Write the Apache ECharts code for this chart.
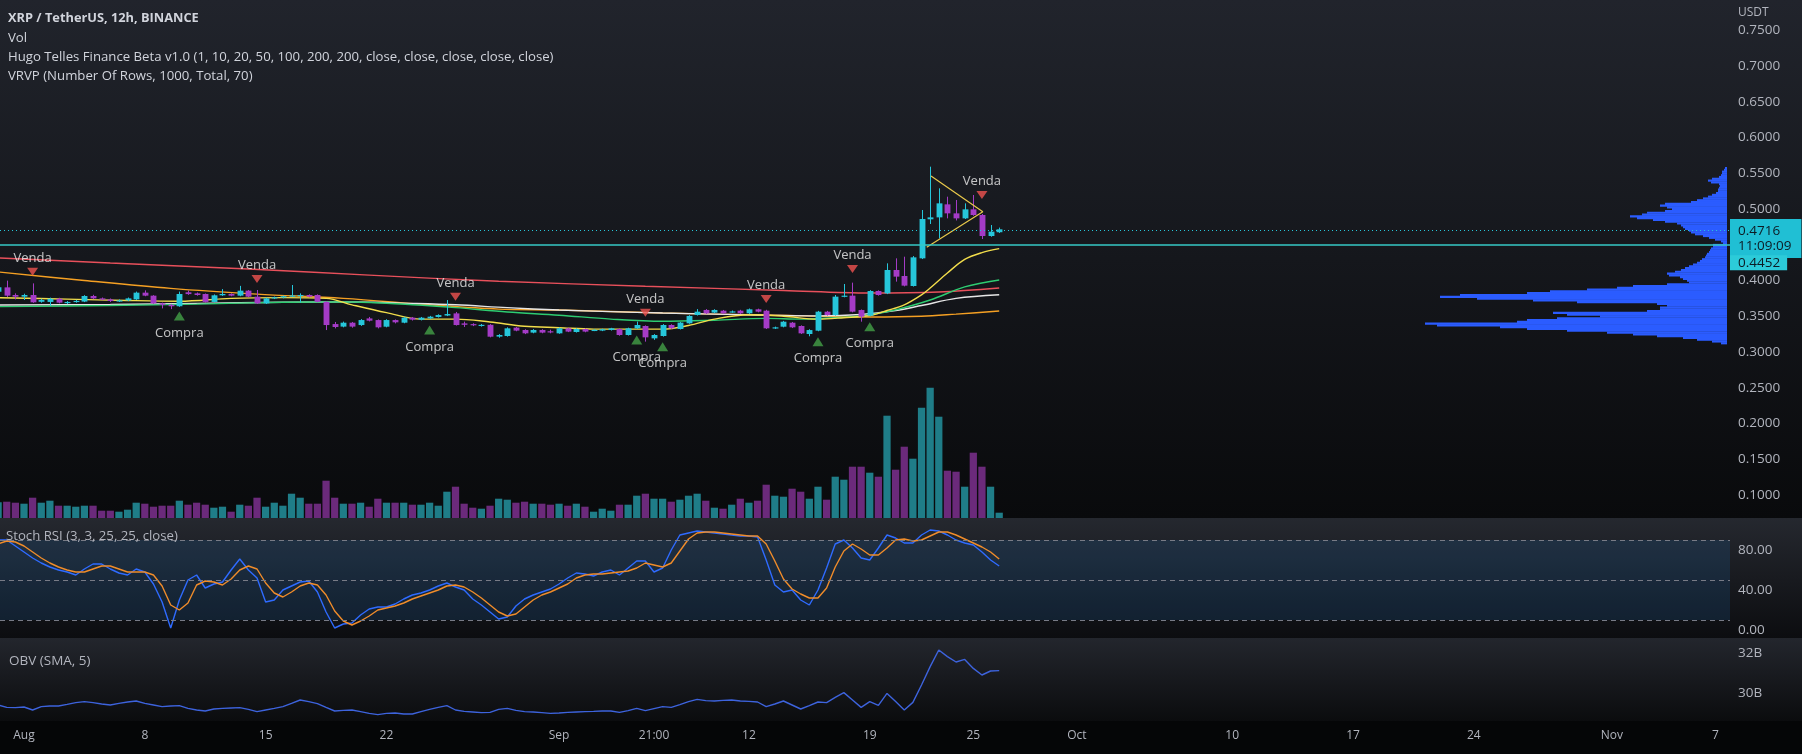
<!DOCTYPE html>
<html><head><meta charset="utf-8">
<script src="https://cdn.jsdelivr.net/npm/echarts@6/dist/echarts.min.js"></script>
<style>html,body{margin:0;padding:0;background:#0b0c0f;}#c{width:1802px;height:754px;}</style>
</head><body><div id="c"></div>
<script>
// ---------------- DATA ----------------
const firstBar = -3; // 12h bar index, 0 = Aug 1 00:00
const opens = [
0.3843,0.3904,0.3797,0.3774,0.3797,0.3702,0.3700,0.3745,0.3690,0.3700,
0.3705,0.3783,0.3750,0.3736,0.3710,0.3722,0.3736,0.3830,0.3788,0.3680,
0.3660,0.3640,0.3835,0.3820,0.3811,0.3700,0.3793,0.3811,0.3788,0.3858,
0.3774,0.3680,0.3750,0.3762,0.3778,0.3780,0.3797,0.3797,0.3702,0.3391,
0.3355,0.3410,0.3377,0.3470,0.3447,0.3354,0.3447,0.3410,0.3480,0.3452,
0.3470,0.3490,0.3510,0.3540,0.3400,0.3390,0.3365,0.3380,0.3215,0.3224,
0.3341,0.3308,0.3271,0.3308,0.3290,0.3261,0.3331,0.3280,0.3322,0.3299,
0.3299,0.3308,0.3322,0.3238,0.3331,0.3364,0.3191,0.3224,0.3378,0.3322,
0.3401,0.3518,0.3588,0.3551,0.3578,0.3560,0.3578,0.3541,0.3597,0.3578,
0.3331,0.3354,0.3410,0.3364,0.3252,0.3298,0.3564,0.3517,0.3774,0.3788,
0.3587,0.3508,0.3853,0.3820,0.4147,0.4063,0.3923,0.4310,0.4856,0.4883,
0.5065,0.4939,0.4869,0.4995,0.4916,0.4622,0.4675];
const closes = [
0.3904,0.3788,0.3774,0.3797,0.3695,0.3727,0.3745,0.3690,0.3700,0.3715,
0.3783,0.3750,0.3736,0.3713,0.3722,0.3750,0.3830,0.3788,0.3680,0.3660,
0.3640,0.3811,0.3810,0.3797,0.3700,0.3793,0.3811,0.3788,0.3858,0.3774,
0.3680,0.3750,0.3765,0.3780,0.3790,0.3797,0.3774,0.3702,0.3377,0.3350,
0.3410,0.3355,0.3447,0.3438,0.3345,0.3447,0.3415,0.3480,0.3452,0.3480,
0.3494,0.3517,0.3531,0.3377,0.3380,0.3375,0.3380,0.3214,0.3238,0.3331,
0.3299,0.3261,0.3308,0.3271,0.3280,0.3331,0.3285,0.3322,0.3285,0.3310,
0.3318,0.3331,0.3238,0.3331,0.3378,0.3205,0.3238,0.3378,0.3331,0.3411,
0.3504,0.3564,0.3541,0.3588,0.3541,0.3568,0.3541,0.3597,0.3564,0.3331,
0.3345,0.3424,0.3345,0.3261,0.3307,0.3564,0.3517,0.3774,0.3788,0.3564,
0.3494,0.3853,0.3797,0.4147,0.4054,0.3928,0.4324,0.4860,0.4883,0.5079,
0.4939,0.4869,0.4995,0.4916,0.4622,0.4683,0.4716];
const highs = [
0.3925,0.3998,0.3820,0.3815,0.3960,0.3745,0.3760,0.3758,0.3712,0.3730,
0.3795,0.3800,0.3762,0.3748,0.3735,0.3762,0.3845,0.3862,0.3795,0.3690,
0.3672,0.3845,0.3860,0.3832,0.3818,0.3805,0.3880,0.3820,0.3925,0.3866,
0.3867,0.3760,0.3775,0.3790,0.3937,0.3820,0.3806,0.3806,0.3708,0.3420,
0.3425,0.3420,0.3460,0.3490,0.3455,0.3458,0.3455,0.3492,0.3490,0.3490,
0.3505,0.3527,0.3727,0.3560,0.3425,0.3402,0.3392,0.3390,0.3250,0.3345,
0.3350,0.3318,0.3320,0.3318,0.3312,0.3342,0.3340,0.3332,0.3330,0.3318,
0.3326,0.3338,0.3330,0.3340,0.3425,0.3372,0.3250,0.3390,0.3388,0.3420,
0.3515,0.3600,0.3600,0.3598,0.3588,0.3580,0.3590,0.3608,0.3606,0.3590,
0.3355,0.3435,0.3420,0.3372,0.3318,0.3575,0.3575,0.3797,0.3951,0.3970,
0.3595,0.3865,0.3862,0.4240,0.4310,0.4333,0.4342,0.4986,0.5592,0.5289,
0.5172,0.5126,0.5079,0.5196,0.4930,0.4776,0.4740];
const lows = [
0.3830,0.3770,0.3736,0.3727,0.3688,0.3690,0.3643,0.3680,0.3670,0.3690,
0.3698,0.3740,0.3725,0.3700,0.3700,0.3712,0.3728,0.3780,0.3672,0.3610,
0.3600,0.3632,0.3800,0.3788,0.3690,0.3692,0.3785,0.3780,0.3780,0.3765,
0.3672,0.3672,0.3740,0.3750,0.3770,0.3690,0.3765,0.3695,0.3307,0.3330,
0.3345,0.3340,0.3365,0.3428,0.3330,0.3345,0.3400,0.3402,0.3440,0.3442,
0.3462,0.3482,0.3502,0.3370,0.3350,0.3362,0.3355,0.3205,0.3200,0.3215,
0.3290,0.3250,0.3262,0.3262,0.3262,0.3255,0.3278,0.3272,0.3276,0.3292,
0.3292,0.3300,0.3228,0.3230,0.3322,0.3145,0.3170,0.3215,0.3322,0.3315,
0.3395,0.3510,0.3532,0.3542,0.3532,0.3550,0.3532,0.3532,0.3555,0.3322,
0.3322,0.3345,0.3335,0.3252,0.3220,0.3290,0.3508,0.3508,0.3765,0.3555,
0.3424,0.3500,0.3788,0.3810,0.3984,0.3918,0.3915,0.4300,0.4790,0.4590,
0.4869,0.4840,0.4860,0.4905,0.4580,0.4612,0.4665];
// volume, millions of XRP
const volumes = [
157,163,153,143,203,153,173,123,123,113,
123,123,73,73,63,83,153,143,113,123,
123,173,133,153,133,103,113,63,133,123,
203,113,153,123,243,203,143,143,373,203,
143,143,153,113,193,153,153,153,133,133,
153,123,263,313,143,103,93,123,193,183,
153,163,143,143,133,143,123,143,113,63,
93,73,133,133,223,243,193,193,163,183,
223,243,173,103,93,133,193,153,173,333,
223,213,293,263,193,313,183,413,383,513,
513,453,413,1023,483,713,593,1103,1303,1013,
473,463,313,653,513,313,53];
const stochK = [
90,90,84,78,72,67,63,60,58,55,
61,66,66,61,57,55,61,58,46,28,
2,30,50,55,42,46,48,60,71,60,
52,28,30,40,44,48,49,38,18,2,
6,7,15,21,23,23,26,31,35,37,
40,44,47,43,40,31,25,18,11,13,
24,31,35,38,41,46,52,57,56,54,
58,60,55,62,69,69,58,62,80,95,
97,99,98,97,96,95,94,94,93,70,
45,38,40,30,25,40,62,86,90,82,
72,70,82,95,92,87,87,95,100,99,
95,90,87,85,78,70,64];
const stochD = [
86,89,88,84,78,72,67,63,60,58,
58,61,64,64,61,58,58,58,55,44,
25,20,27,45,49,48,45,51,60,64,
61,47,37,33,38,44,47,45,35,19,
9,5,9,14,20,22,24,27,31,34,
37,40,44,45,43,38,32,25,18,14,
16,23,30,35,38,42,46,52,55,56,
56,57,58,59,62,67,65,63,67,79,
91,97,98,98,97,96,95,94,94,86,
69,51,41,36,32,32,42,63,79,86,
81,75,75,82,90,91,89,90,94,98,
98,95,91,87,83,78,71];
// OBV (SMA 5), billions
const obv = [
29.40,29.28,29.27,29.30,29.15,29.32,29.35,29.35,29.43,29.52,
29.57,29.52,29.45,29.40,29.48,29.55,29.60,29.48,29.40,29.32,
29.35,29.37,29.23,29.15,29.10,29.20,29.23,29.25,29.27,29.18,
29.07,29.15,29.23,29.32,29.48,29.65,29.57,29.47,29.28,29.10,
29.13,29.15,29.07,28.98,28.92,28.98,29.00,28.95,28.95,29.07,
29.18,29.28,29.37,29.15,29.08,29.05,29.02,29.03,29.18,29.23,
29.13,29.07,29.05,29.02,28.98,29.00,29.03,29.05,29.07,29.08,
29.10,29.10,29.03,29.12,29.23,29.12,29.22,29.32,29.28,29.42,
29.57,29.68,29.62,29.60,29.63,29.65,29.60,29.58,29.55,29.32,
29.45,29.60,29.40,29.20,29.37,29.55,29.52,29.78,30.02,29.65,
29.28,29.57,29.38,29.98,29.57,29.15,29.53,30.40,31.32,32.15,
31.82,31.55,31.68,31.23,30.90,31.10,31.12];
// moving averages: [bar index, price]
const maRed = [[-3,0.4315],[10,0.4245],[26,0.4161],[40,0.4075],[55,0.3990],[72,0.3920],[88,0.3860],[98,0.3825],[106,0.3840],[113,0.3895]];
const maOrange = [[-3,0.4120],[7,0.4000],[17,0.3890],[27,0.3810],[37,0.3750],[47,0.3660],[55,0.3600],[62,0.3587],[74,0.3545],[86,0.3517],[98,0.3490],[104,0.3500],[108,0.3530],[113,0.3573]];
const maWhite = [[-3,0.3657],[10,0.3665],[20,0.3680],[30,0.3695],[38,0.3700],[45,0.3680],[50,0.3660],[56,0.3620],[62,0.3587],[68,0.3565],[74,0.3545],[80,0.3530],[86,0.3515],[92,0.3505],[97,0.3525],[101,0.3580],[104,0.3650],[108,0.3750],[113,0.3800]];
const maGreen = [[-3,0.3634],[10,0.3650],[20,0.3670],[30,0.3695],[38,0.3700],[45,0.3660],[50,0.3620],[56,0.3560],[62,0.3515],[68,0.3460],[74,0.3430],[80,0.3445],[86,0.3470],[90,0.3460],[94,0.3478],[98,0.3520],[101,0.3590],[105,0.3727],[109,0.3910],[113,0.4007]];
const maYellow = [[-3,0.3760],[5,0.3740],[12,0.3720],[18,0.3710],[24,0.3750],[30,0.3760],[35,0.3750],[38,0.3660],[42,0.3550],[46,0.3460],[50,0.3460],[54,0.3420],[58,0.3360],[62,0.3340],[66,0.3320],[70,0.3320],[74,0.3320],[77,0.3370],[80,0.3460],[84,0.3520],[88,0.3500],[92,0.3460],[95,0.3480],[98,0.3510],[100,0.3580],[102,0.3660],[104,0.3800],[105,0.3895],[107,0.4105],[109,0.4295],[111,0.4390],[113,0.4445]];
const trianglePts = [[105.1,0.5462],[111.1,0.4962],[104.6,0.4464]];
// signals
const vendaBars = [1,27,50,72,86,96,111];
const vendaPrices = [0.4123,0.4021,0.3773,0.3550,0.3741,0.4161,0.5196];
const compraBars = [18,47,71,74,92,98];
const compraPrices = [0.3503,0.3308,0.3168,0.3074,0.3144,0.3354];
const supportLevel = 0.4452;
const countdown = '11:09:09';
// volume profile (VRVP) rows, low -> high
const vrvpFirstRow = 0.3125, vrvpStep = 0.0025;
const vrvpVolumes = [
6,15,30,44,70,94,120,160,200,227,290,302,210,200,170,127,160,174,80,67,
67,60,70,150,194,250,287,267,200,177,140,110,94,60,38,40,44,47,58,60,
52,46,42,38,34,30,27,25,22,21,20,18,17,16,14,14,4,6,12,18,
24,32,36,38,42,44,46,50,62,74,90,97,85,80,62,55,60,67,62,36,
30,24,19,15,11,9,9,8,7,8,16,19,15,8,6,5,5,3,2];
// axes
const priceTicks = [0.10,0.15,0.20,0.25,0.30,0.35,0.40,0.45,0.50,0.55,0.60,0.65,0.70,0.75];
const stochTicks = [0,40,80];
const stochBands = [90,50,10];
const obvTicks = [30,32];
const timeTickBars = [0,14,28,42,62,73,84,98,110,122,140,154,168,184,196];
const timeTickLabels = ['Aug','8','15','22','Sep','21:00','12','19','25','Oct','10','17','24','Nov','7'];

// ---------------- CHART ----------------
const FONT = '"Open Sans", "Noto Sans", sans-serif';
const UP = '#26c6da', DOWN = '#a43bc6', VUP = '#1f7d88', VDOWN = '#6b2a7b';
const AXC = '#b2b5be';
const xMin = -2.781, xMax = 197.68;
const pMin = 0.06783, pMax = 0.79231;

const bars = opens.map((o, k) => firstBar + k);
const candleData = opens.map((o, k) => [bars[k], o, closes[k], lows[k], highs[k]]);
const volData = volumes.map((v, k) => [bars[k], v, closes[k] >= opens[k] ? 1 : 0]);
const kData = stochK.map((v, k) => [bars[k], v]);
const dData = stochD.map((v, k) => [bars[k], v]);
const obvData = obv.map((v, k) => [bars[k], v]);
const vrvpData = vrvpVolumes.map((v, k) => [v, vrvpFirstRow + k * vrvpStep]);
const lastPrice = closes[closes.length - 1];

function renderCandle(params, api) {
  const x = api.value(0), o = api.value(1), c = api.value(2), l = api.value(3), h = api.value(4);
  const pO = api.coord([x, o]), pC = api.coord([x, c]), pL = api.coord([x, l]), pH = api.coord([x, h]);
  const w = api.size([1, 0])[0] * 0.68;
  const col = c >= o ? UP : DOWN;
  const cx = Math.round(pO[0]) + 0.5;
  const top = Math.min(pO[1], pC[1]), bot = Math.max(pO[1], pC[1]);
  return {type: 'group', children: [
    {type: 'line', shape: {x1: cx, y1: pH[1], x2: cx, y2: pL[1]}, style: {stroke: col, lineWidth: 1}},
    {type: 'rect', shape: {x: cx - w / 2, y: top, width: w, height: Math.max(bot - top, 1.2)}, style: {fill: col}}
  ]};
}
function renderVol(params, api) {
  const x = api.value(0), v = api.value(1), up = api.value(2);
  const p1 = api.coord([x, v]), p0 = api.coord([x, 0]);
  const w = api.size([1, 0])[0] * 0.84;
  return {type: 'rect', shape: {x: p1[0] - w / 2, y: p1[1], width: w, height: p0[1] - p1[1]}, style: {fill: up ? VUP : VDOWN}};
}
function renderProfile(params, api) {
  const v = api.value(0), p = api.value(1);
  const a = api.coord([v, p + vrvpStep / 2]), b = api.coord([0, p - vrvpStep / 2]);
  return {type: 'rect', shape: {x: a[0], y: a[1], width: b[0] - a[0], height: b[1] - a[1] + 0.4}, style: {fill: '#2b5cff'}};
}
function mkX(g, labels) {
  return {gridIndex: g, type: 'value', min: xMin, max: xMax,
    axisLine: {show: false}, axisTick: {show: false}, splitLine: {show: false},
    axisLabel: labels ? {show: true, customValues: timeTickBars, margin: 9, color: AXC, fontSize: 12, fontFamily: FONT,
      formatter: v => { const j = timeTickBars.indexOf(v); return j >= 0 ? timeTickLabels[j] : ''; }} : {show: false}};
}
function maSeries(data, color, width) {
  return {type: 'line', xAxisIndex: 0, yAxisIndex: 0, data: data, showSymbol: false, smooth: 0.35,
    lineStyle: {color: color, width: width || 1.4}, silent: true, z: 3};
}
const bg = (y, h, c1, c2) => ({type: 'rect', z: -10, silent: true, shape: {x: 0, y: y, width: 1802, height: h},
  style: {fill: new echarts.graphic.LinearGradient(0, 0, 0, 1, [{offset: 0, color: c1}, {offset: 1, color: c2}])}});
const txt = (t, x, y, opts) => Object.assign({type: 'text', z: 50, silent: true,
  style: Object.assign({text: t, x: x, y: y, fill: '#d1d4dc', font: '13.2px ' + FONT, verticalAlign: 'middle'}, opts || {})});

const chart = echarts.init(document.getElementById('c'), null, {width: 1802, height: 754});
chart.setOption({
  backgroundColor: '#08090b',
  animation: false,
  textStyle: {fontFamily: FONT},
  grid: [
    {left: 0, right: 72, top: 0, height: 518},
    {left: 0, right: 72, top: 300, height: 218},
    {left: 1227, width: 500, top: 0, height: 518},
    {left: 0, right: 72, top: 518, height: 119},
    {left: 0, right: 72, top: 638, height: 83}
  ],
  xAxis: [mkX(0), mkX(1),
    {gridIndex: 2, type: 'value', inverse: true, min: 0, max: 500, show: false},
    mkX(3), mkX(4, true)],
  yAxis: [
    {gridIndex: 0, type: 'value', position: 'right', min: pMin, max: pMax, splitLine: {show: false},
      axisLine: {show: false}, axisTick: {show: false},
      axisLabel: {customValues: priceTicks, formatter: v => v.toFixed(4), color: AXC, fontSize: 13.5, margin: 8, fontFamily: FONT}},
    {gridIndex: 1, type: 'value', min: 0, max: 2180, show: false},
    {gridIndex: 2, type: 'value', min: pMin, max: pMax, show: false},
    {gridIndex: 3, type: 'value', position: 'right', min: -7, max: 112, splitLine: {show: false},
      axisLine: {show: false}, axisTick: {show: false},
      axisLabel: {customValues: stochTicks, formatter: v => v.toFixed(2), color: AXC, fontSize: 13.5, margin: 8, fontFamily: FONT}},
    {gridIndex: 4, type: 'value', position: 'right', min: 28.6, max: 32.75, splitLine: {show: false},
      axisLine: {show: false}, axisTick: {show: false},
      axisLabel: {customValues: obvTicks, formatter: v => v + 'B', color: AXC, fontSize: 13.5, margin: 8, fontFamily: FONT}}
  ],
  graphic: {elements: [
    bg(0, 518, '#21242c', '#090a0c'),
    bg(518, 120, '#25282f', '#0c0d10'),
    bg(638, 83, '#23262d', '#0b0c0e'),
    {type: 'rect', z: -10, silent: true, shape: {x: 0, y: 721, width: 1802, height: 33}, style: {fill: '#050607'}},
    txt('XRP / TetherUS, 12h, BINANCE', 8, 18, {font: 'bold 12.8px ' + FONT}),
    txt('Vol', 8, 38),
    txt('Hugo Telles Finance Beta v1.0 (1, 10, 20, 50, 100, 200, 200, close, close, close, close, close)', 8, 57),
    txt('VRVP (Number Of Rows, 1000, Total, 70)', 8, 76),
    txt('Stoch RSI (3, 3, 25, 25, close)', 6, 536, {fill: AXC, font: '13.2px ' + FONT}),
    txt('OBV (SMA, 5)', 9, 661, {fill: AXC, font: '13.5px ' + FONT}),
    txt('USDT', 1738, 13, {fill: AXC, font: '12px ' + FONT})
  ]},
  series: [
    {type: 'custom', name: 'Vol', xAxisIndex: 1, yAxisIndex: 1, data: volData, renderItem: renderVol, clip: true, z: 1, silent: true},
    {type: 'custom', name: 'VRVP', xAxisIndex: 2, yAxisIndex: 2, data: vrvpData, renderItem: renderProfile, clip: true, z: 2, silent: true},
    maSeries(maRed, '#e8505b', 1.4),
    maSeries(maOrange, '#f5a023', 1.4),
    maSeries(maWhite, '#e6e6e6', 1.4),
    maSeries(maGreen, '#2ecc71', 1.4),
    maSeries(maYellow, '#f2dd4b', 1.4),
    {type: 'line', xAxisIndex: 0, yAxisIndex: 0, data: trianglePts, showSymbol: false, lineStyle: {color: '#e8c84a', width: 1.2}, z: 6, silent: true},
    {type: 'custom', name: 'XRP', xAxisIndex: 0, yAxisIndex: 0, data: candleData, renderItem: renderCandle, clip: true, z: 5, silent: true,
      encode: {x: 0, y: [1, 2, 3, 4]},
      markLine: {symbol: ['none', 'none'], silent: true, animation: false, z: 8, data: [
        {yAxis: lastPrice, lineStyle: {color: '#26c6da', type: [1, 3], width: 1},
          label: {show: true, position: 'end', distance: 0, formatter: lastPrice.toFixed(4) + '\n' + countdown,
            backgroundColor: '#20bfd4', color: '#0d1b24', padding: [5, 10, 4, 8], fontSize: 13.5, lineHeight: 15, fontFamily: FONT, offset: [0, 8]}},
        {yAxis: supportLevel, lineStyle: {color: '#36c9c6', type: 'solid', width: 1.5},
          label: {show: true, position: 'end', distance: 0, formatter: supportLevel.toFixed(4),
            backgroundColor: '#2ccbd9', color: '#0d1b24', padding: [0, 7, 0, 8], fontSize: 13.5, lineHeight: 15, fontFamily: FONT, offset: [0, 18]}}
      ]}},
    {type: 'scatter', xAxisIndex: 0, yAxisIndex: 0, z: 9, silent: true,
      data: vendaBars.map((b, k) => [b, vendaPrices[k]]),
      symbol: 'path://M0,0L10,0L5,8Z', symbolSize: [11, 8], itemStyle: {color: '#ef5350'},
      label: {show: true, position: 'top', distance: 3, formatter: 'Venda', color: '#f0f0f0', fontSize: 13, fontFamily: FONT}},
    {type: 'scatter', xAxisIndex: 0, yAxisIndex: 0, z: 9, silent: true,
      data: compraBars.map((b, k) => [b, compraPrices[k]]),
      symbol: 'path://M5,0L10,9L0,9Z', symbolSize: [11, 9], itemStyle: {color: '#43a047'},
      label: {show: true, position: 'bottom', distance: 6, formatter: 'Compra', color: '#f0f0f0', fontSize: 13, fontFamily: FONT}},
    {type: 'line', name: 'K', xAxisIndex: 3, yAxisIndex: 3, data: kData, showSymbol: false, lineStyle: {color: '#2f6bff', width: 1.4}, z: 4, silent: true,
      markArea: {silent: true, itemStyle: {color: 'rgba(33,120,200,0.16)'}, data: [[{yAxis: stochBands[2]}, {yAxis: stochBands[0]}]]},
      markLine: {symbol: ['none', 'none'], silent: true, label: {show: false}, lineStyle: {color: '#787b86', type: [5, 4], width: 1},
        data: stochBands.map(v => ({yAxis: v}))}},
    {type: 'line', name: 'D', xAxisIndex: 3, yAxisIndex: 3, data: dData, showSymbol: false, lineStyle: {color: '#f08c2a', width: 1.4}, z: 4, silent: true},
    {type: 'line', name: 'OBV', xAxisIndex: 4, yAxisIndex: 4, data: obvData, showSymbol: false, lineStyle: {color: '#3d63dd', width: 1.4}, z: 4, silent: true}
  ]
});
</script></body></html>
